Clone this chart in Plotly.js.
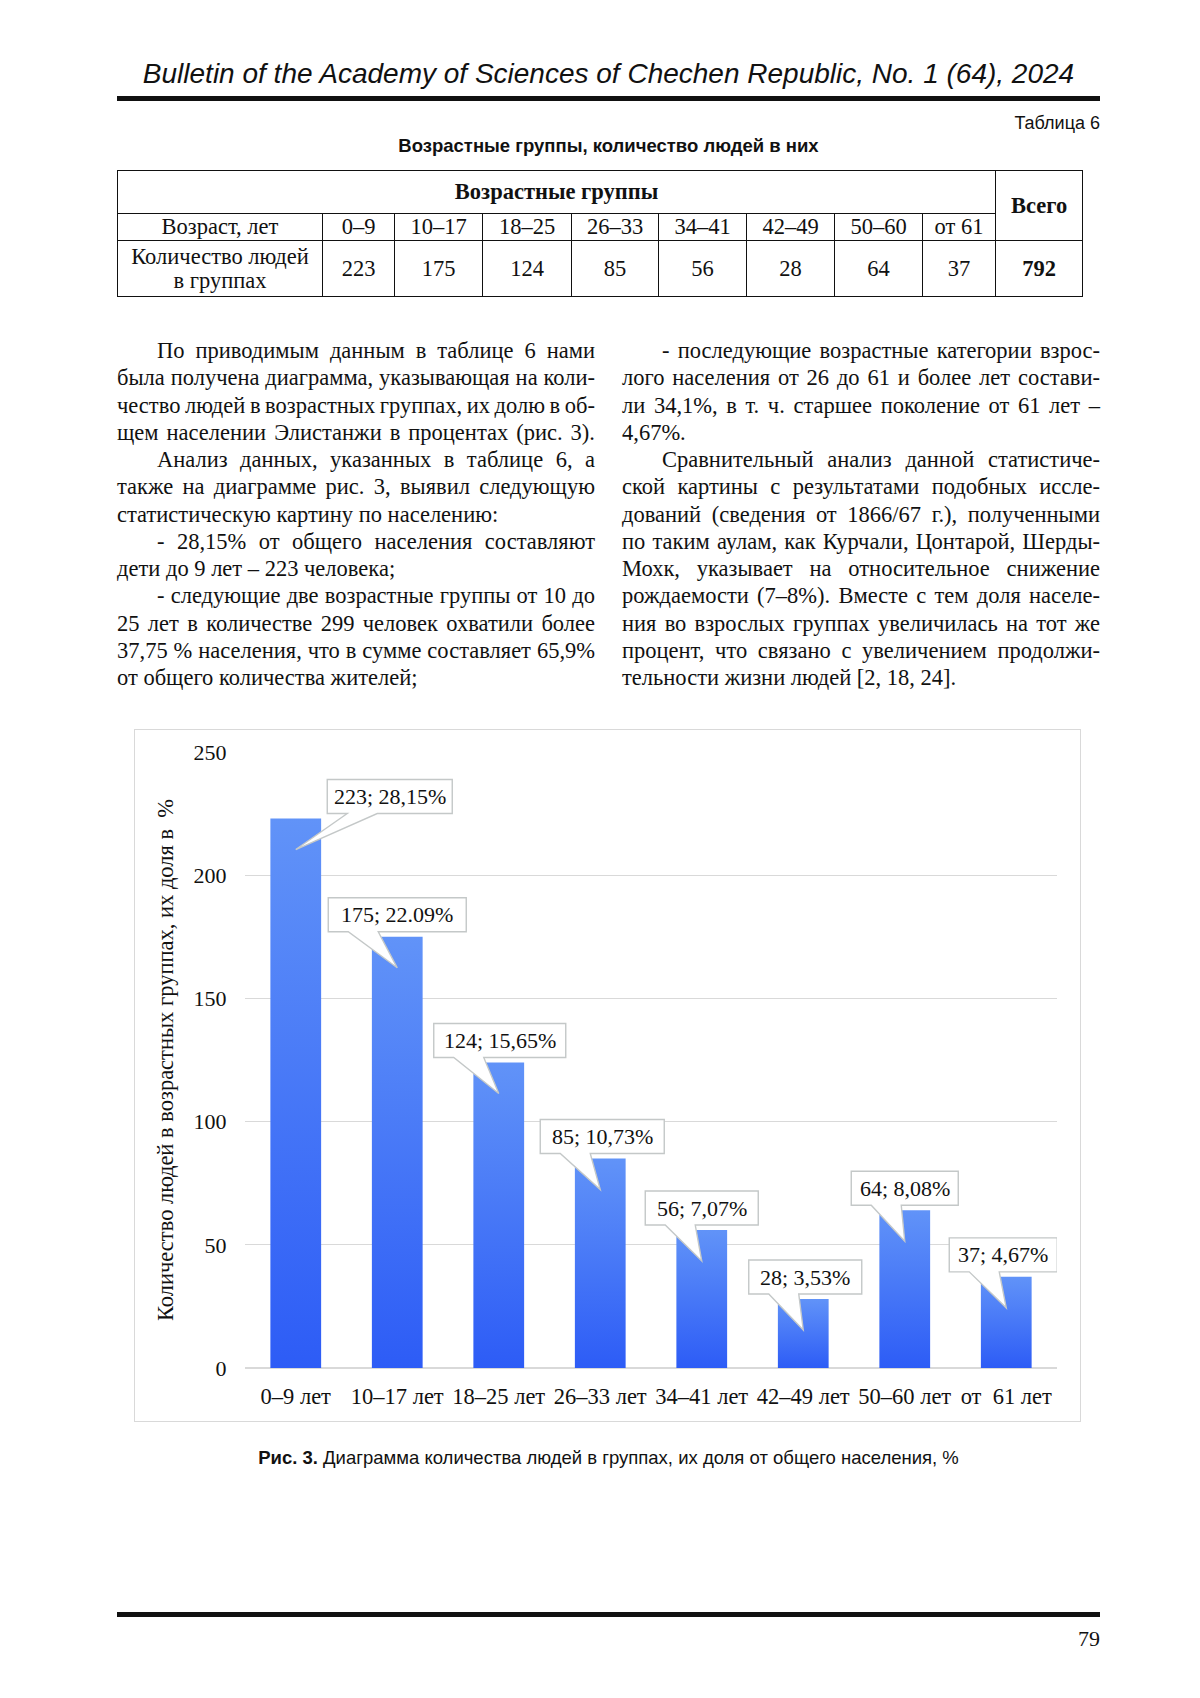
<!DOCTYPE html>
<html><head><meta charset="utf-8">
<script src="https://cdn.plot.ly/plotly-3.0.1.min.js"></script>
<style>
body{margin:0;background:#fff;width:1200px;height:1698px;position:relative;overflow:hidden;color:#111;}
.abs{position:absolute;}
#hdr{left:117px;width:983px;top:56px;text-align:center;font:italic 28px "Liberation Sans",Arial,sans-serif;line-height:36px;white-space:nowrap;}
.rule{position:absolute;left:117px;width:983px;height:5px;background:#111;}
#tabno{right:100px;top:112px;font:18px "Liberation Sans",Arial,sans-serif;line-height:22px;}
#tabcap{left:117px;width:983px;top:135px;text-align:center;font:bold 18.5px "Liberation Sans",Arial,sans-serif;line-height:22px;white-space:nowrap;}
table{position:absolute;left:117px;top:170px;width:965px;border-collapse:collapse;table-layout:fixed;font:22.5px "Liberation Serif","Times New Roman",serif;}
td{border:1.6px solid #111;text-align:center;padding:0;line-height:24px;white-space:nowrap;}
.col{position:absolute;top:337px;width:478px;font:22.5px "Liberation Serif","Times New Roman",serif;line-height:27.26px;}
.col div{white-space:nowrap;text-align:justify;text-align-last:justify;}
.col div.l{text-align-last:left;}
.col div.i{text-indent:40px;}
.col div.t{word-spacing:-1.6px;}
#frame{left:134px;top:729px;width:947px;height:693px;border:1.5px solid #d9d9d9;box-sizing:border-box;pointer-events:none;}
#chart{left:134px;top:729px;width:947px;height:693px;}
#cap{left:117px;width:983px;top:1446px;text-align:center;font:18.5px "Liberation Sans",Arial,sans-serif;line-height:24px;white-space:nowrap;}
#pno{right:100px;top:1625px;font:22px "Liberation Serif","Times New Roman",serif;line-height:28px;}
</style></head>
<body>
<div id="hdr" class="abs">Bulletin of the Academy of Sciences of Chechen Republic, No. 1 (64), 2024</div>
<div class="rule" style="top:96px"></div>
<div id="tabno" class="abs">Таблица 6</div>
<div id="tabcap" class="abs">Возрастные группы, количество людей в них</div>
<table>
<colgroup><col style="width:205px"><col style="width:72px"><col style="width:88px"><col style="width:89px"><col style="width:87px"><col style="width:88px"><col style="width:88px"><col style="width:88px"><col style="width:73px"><col style="width:87px"></colgroup>
<tr style="height:43px"><td colspan="9"><b>Возрастные группы</b></td><td rowspan="2"><b>Всего</b></td></tr>
<tr style="height:27px"><td>Возраст, лет</td><td>0–9</td><td>10–17</td><td>18–25</td><td>26–33</td><td>34–41</td><td>42–49</td><td>50–60</td><td>от 61</td></tr>
<tr style="height:56px"><td>Количество людей<br>в группах</td><td>223</td><td>175</td><td>124</td><td>85</td><td>56</td><td>28</td><td>64</td><td>37</td><td><b>792</b></td></tr>
</table>

<div class="col" style="left:117px">
<div class="i">По приводимым данным в таблице 6 нами</div>
<div>была получена диаграмма, указывающая на коли-</div>
<div class="t">чество людей в возрастных группах, их долю в об-</div>
<div>щем населении Элистанжи в процентах (рис. 3).</div>
<div class="i">Анализ данных, указанных в таблице 6, а</div>
<div>также на диаграмме рис. 3, выявил следующую</div>
<div class="l">статистическую картину по населению:</div>
<div class="i">- 28,15% от общего населения составляют</div>
<div class="l">дети до 9 лет – 223 человека;</div>
<div class="i">- следующие две возрастные группы от 10 до</div>
<div>25 лет в количестве 299 человек охватили более</div>
<div>37,75 % населения, что в сумме составляет 65,9%</div>
<div class="l">от общего количества жителей;</div>
</div>
<div class="col" style="left:622px">
<div class="i">- последующие возрастные категории взрос-</div>
<div>лого населения от 26 до 61 и более лет состави-</div>
<div>ли 34,1%, в т. ч. старшее поколение от 61 лет –</div>
<div class="l">4,67%.</div>
<div class="i">Сравнительный анализ данной статистиче-</div>
<div>ской картины с результатами подобных иссле-</div>
<div>дований (сведения от 1866/67 г.), полученными</div>
<div>по таким аулам, как Курчали, Цонтарой, Шерды-</div>
<div>Мохк, указывает на относительное снижение</div>
<div>рождаемости (7–8%). Вместе с тем доля населе-</div>
<div>ния во взрослых группах увеличилась на тот же</div>
<div>процент, что связано с увеличением продолжи-</div>
<div class="l">тельности жизни людей [2, 18, 24].</div>
</div>

<div id="chart" class="abs"></div>
<div id="frame" class="abs"></div>
<div id="cap" class="abs"><b>Рис. 3.</b> Диаграмма количества людей в группах, их доля от общего населения, %</div>
<div class="rule" style="top:1612px"></div>
<div id="pno" class="abs">79</div>

<script>
// ---- data ----
const categories = ['0–9 лет', '10–17 лет', '18–25 лет', '26–33 лет', '34–41 лет', '42–49 лет', '50–60 лет', 'от\u00a0 61 лет'];
const counts = [223, 175, 124, 85, 56, 28, 64, 37];
const shareLabels = ['28,15%', '22.09%', '15,65%', '10,73%', '7,07%', '3,53%', '8,08%', '4,67%'];
const yTickValues = [0, 50, 100, 150, 200, 250];

// ---- callout styling (pixel offsets / widths of label boxes) ----
const calloutDx = [94, 0, 1, 2, 0, 2, 0, -3];
const calloutW = [125, 138, 132, 124, 113, 113, 107, 108];
const boxBottom = 5, boxTop = 39, tipDepth = -31;

const serif = '"Liberation Serif", "Times New Roman", serif';

const shapes = [];
const annotations = [];
counts.forEach(function (v, i) {
  const L = calloutDx[i] - calloutW[i] / 2;
  const R = calloutDx[i] + calloutW[i] / 2;
  const path = 'M' + L + ',' + boxBottom + ' L' + L + ',' + boxTop + ' L' + R + ',' + boxTop +
    ' L' + R + ',' + boxBottom + ' L' + (L + 50) + ',' + boxBottom + ' L0,' + tipDepth +
    ' L' + (L + 20) + ',' + boxBottom + ' Z';
  shapes.push({
    type: 'path', xref: 'x', yref: 'y', xsizemode: 'pixel', ysizemode: 'pixel',
    xanchor: i, yanchor: v, path: path, fillcolor: '#ffffff',
    line: {color: '#c4c8c8', width: 1.4}, layer: 'above'
  });
  annotations.push({
    x: i, y: v, xref: 'x', yref: 'y', showarrow: false,
    xshift: calloutDx[i], yshift: (boxBottom + boxTop) / 2,
    xanchor: 'center', yanchor: 'middle',
    text: v + '; ' + shareLabels[i],
    font: {family: serif, size: 22, color: '#111'}
  });
});

const trace = {
  type: 'bar', x: categories, y: counts, width: 0.5,
  marker: {color: '#4475f6', line: {width: 0}},
  hoverinfo: 'skip'
};

const layout = {
  width: 947, height: 693,
  margin: {l: 111, r: 24, t: 23, b: 54},
  paper_bgcolor: 'rgba(0,0,0,0)', plot_bgcolor: 'rgba(0,0,0,0)',
  showlegend: false,
  font: {family: serif, size: 22, color: '#111'},
  xaxis: {
    type: 'category', range: [-0.5, 7.5], autorange: false,
    showgrid: false, showline: false, zeroline: false,
    ticks: 'outside', ticklen: 8, tickcolor: 'rgba(0,0,0,0)',
    tickfont: {family: serif, size: 22.5, color: '#111'}
  },
  yaxis: {
    range: [0, 250], autorange: false, tickvals: yTickValues, showline: false,
    gridcolor: '#d9d9d9', gridwidth: 1.4,
    zeroline: true, zerolinecolor: '#d9d9d9', zerolinewidth: 1.4,
    ticks: 'outside', ticklen: 13, tickcolor: 'rgba(0,0,0,0)',
    tickfont: {family: serif, size: 22, color: '#111'},
    title: {text: 'Количество людей в возрастных группах, их доля в\u00a0\u00a0%', standoff: 13,
            font: {family: serif, size: 22.5, color: '#111'}}
  },
  shapes: shapes,
  annotations: annotations
};

Plotly.newPlot('chart', [trace], layout, {staticPlot: true, displayModeBar: false}).then(function (gd) {
  const svg = gd.querySelector('svg.main-svg');
  const ns = 'http://www.w3.org/2000/svg';
  let defs = svg.querySelector('defs');
  if (!defs) { defs = document.createElementNS(ns, 'defs'); svg.insertBefore(defs, svg.firstChild); }
  const g = document.createElementNS(ns, 'linearGradient');
  g.setAttribute('id', 'barGrad');
  g.setAttribute('x1', '0'); g.setAttribute('y1', '0');
  g.setAttribute('x2', '0'); g.setAttribute('y2', '1');
  [['0', '#6193f8'], ['1', '#2d5cf6']].forEach(function (s) {
    const st = document.createElementNS(ns, 'stop');
    st.setAttribute('offset', s[0]); st.setAttribute('stop-color', s[1]);
    g.appendChild(st);
  });
  defs.appendChild(g);
  gd.querySelectorAll('.bars .point path').forEach(function (p) {
    p.style.fill = 'url(#barGrad)';
  });
});
</script>
</body></html>
